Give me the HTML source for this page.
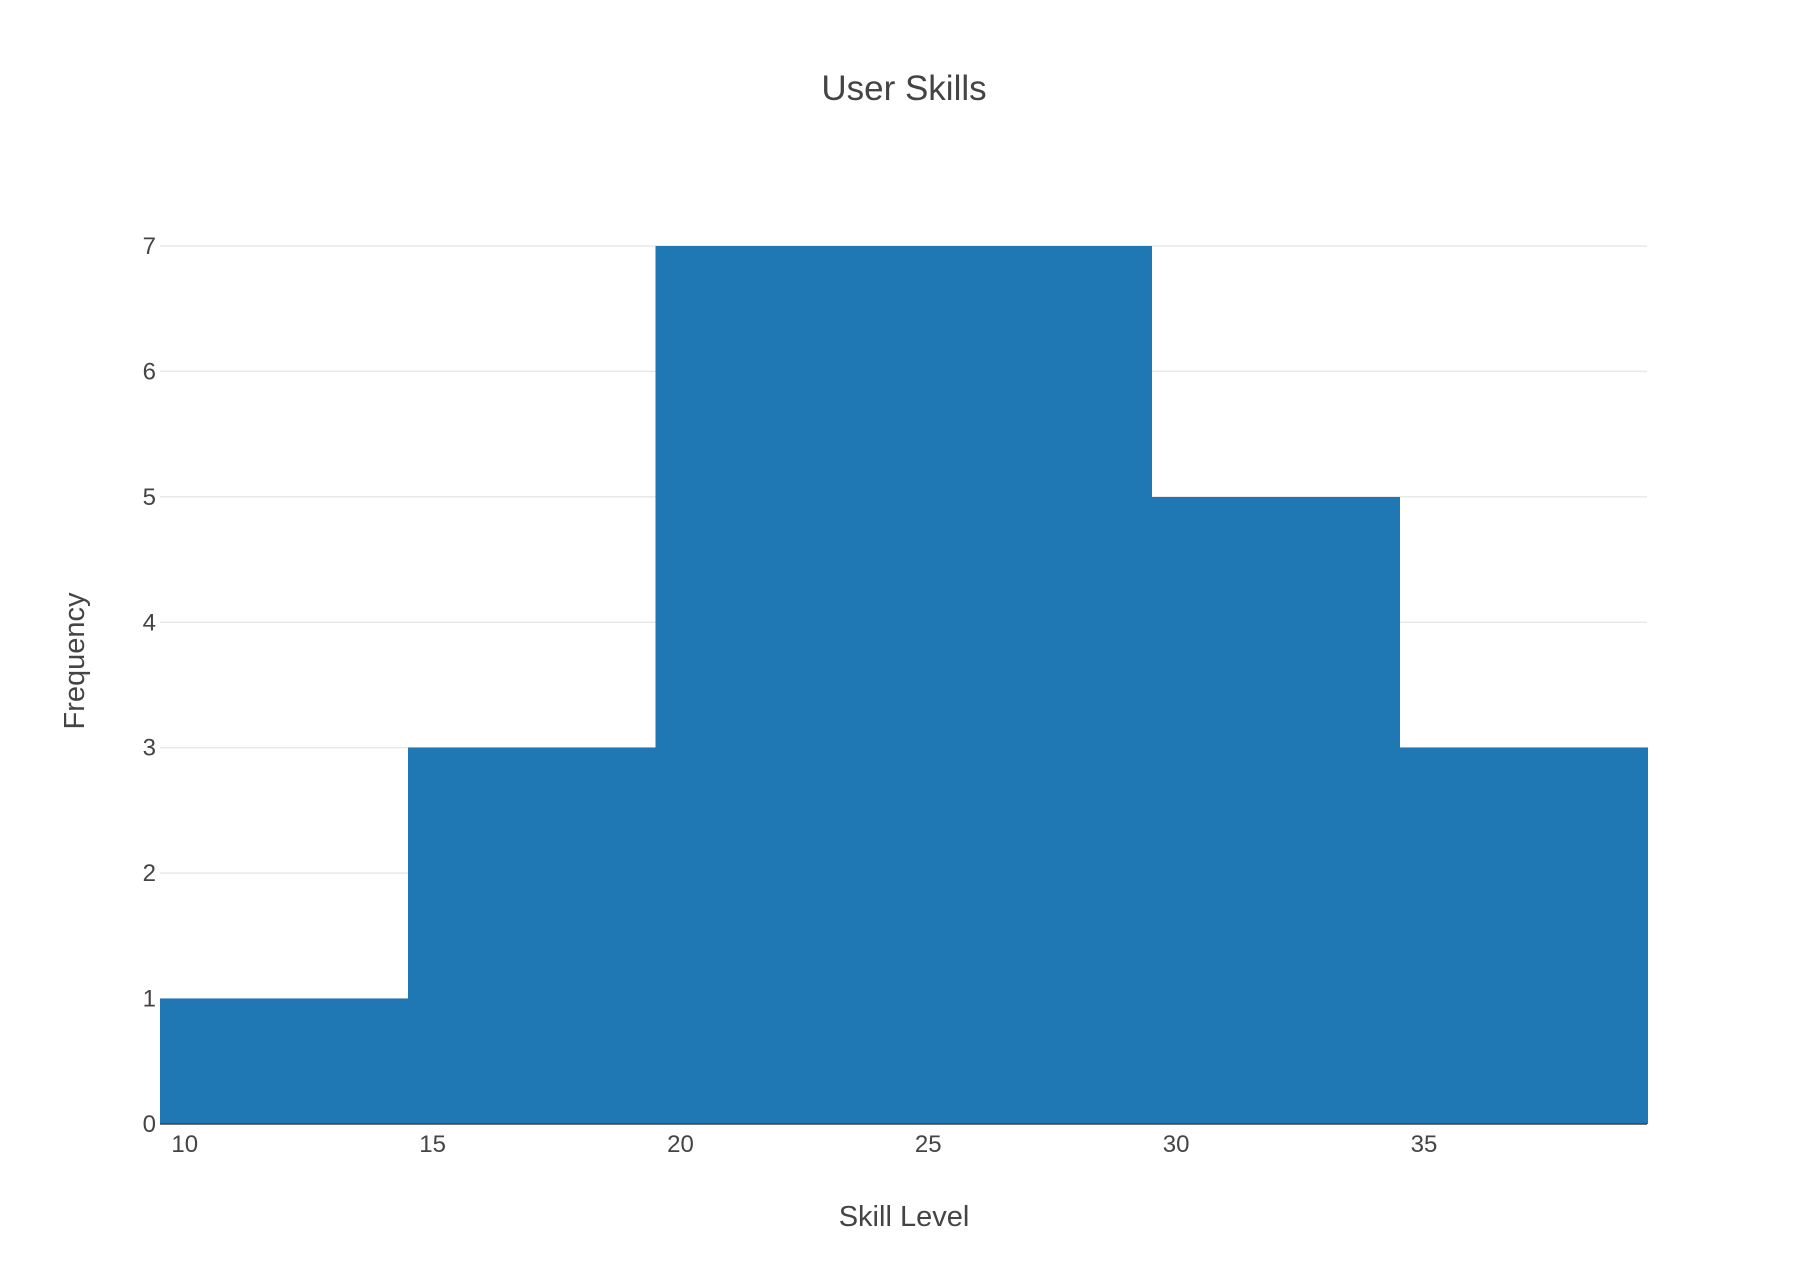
<!DOCTYPE html>
<html><head><meta charset="utf-8"><style>
body{margin:0;background:#fff;}
svg{display:block;font-family:"Liberation Sans","DejaVu Sans",sans-serif;}
</style></head><body>
<svg id="chart" width="1810" height="1284" viewBox="0 0 1810 1284">
<rect width="1810" height="1284" fill="#fff"/>
<text x="904" y="100" text-anchor="middle" font-size="35" fill="#444">User Skills</text>
<g id="grid"></g>
<g id="bars" shape-rendering="crispEdges"></g>
<line x1="160" x2="1647" y1="1124" y2="1124" stroke="#444" stroke-width="1.5"/>
<g id="xticks"></g>
<g id="yticks"></g>
<text x="904" y="1226" text-anchor="middle" font-size="29" fill="#444">Skill Level</text>
<text transform="translate(84,661) rotate(-90)" text-anchor="middle" font-size="29" fill="#444">Frequency</text>
</svg>
<script>
const binStarts = [9.5, 14.5, 19.5, 24.5, 29.5, 34.5];
const binSize = 5;
const counts = [1, 3, 7, 7, 5, 3];
const xTickLabels = [10, 15, 20, 25, 30, 35];
const yTickLabels = [0, 1, 2, 3, 4, 5, 6, 7];
const NS = "http://www.w3.org/2000/svg";
const X0 = 160, X1 = 1647, XMIN = 9.5, XMAX = 39.5;
const Y0 = 1124, Y1 = 246, YMAX = 7;
function xs(v){return X0 + (v - XMIN) / (XMAX - XMIN) * (X1 - X0);}
function ys(v){return Y0 - v / YMAX * (Y0 - Y1);}
function mk(tag, attrs, parent){const e=document.createElementNS(NS,tag);for(const k in attrs)e.setAttribute(k,attrs[k]);parent.appendChild(e);return e;}
const grid=document.getElementById('grid'), bars=document.getElementById('bars'), xt=document.getElementById('xticks'), yt=document.getElementById('yticks');
yTickLabels.forEach(v=>{
  if(v>0){const l=mk('line',{x1:X0,x2:X1,y1:ys(v),y2:ys(v),stroke:'#e8e8e8','stroke-width':1.5},grid);
  
  }
  const t=mk('text',{x:X0-4,y:ys(v)+8,'text-anchor':'end','font-size':24,fill:'#444'},yt);
  t.textContent=v;
  
  
});
binStarts.forEach((s,i)=>{
  const x=xs(s), w=xs(s+binSize)-x;
  const r=mk('rect',{x:x,y:ys(counts[i]),width:w+0.8,height:Y0-ys(counts[i]),fill:'#1f77b4'},bars);
  
  
});
xTickLabels.forEach(v=>{
  const t=mk('text',{x:xs(v),y:1152,'text-anchor':'middle','font-size':24,fill:'#444'},xt);
  t.textContent=v;
  
  
});
</script>
</body></html>
